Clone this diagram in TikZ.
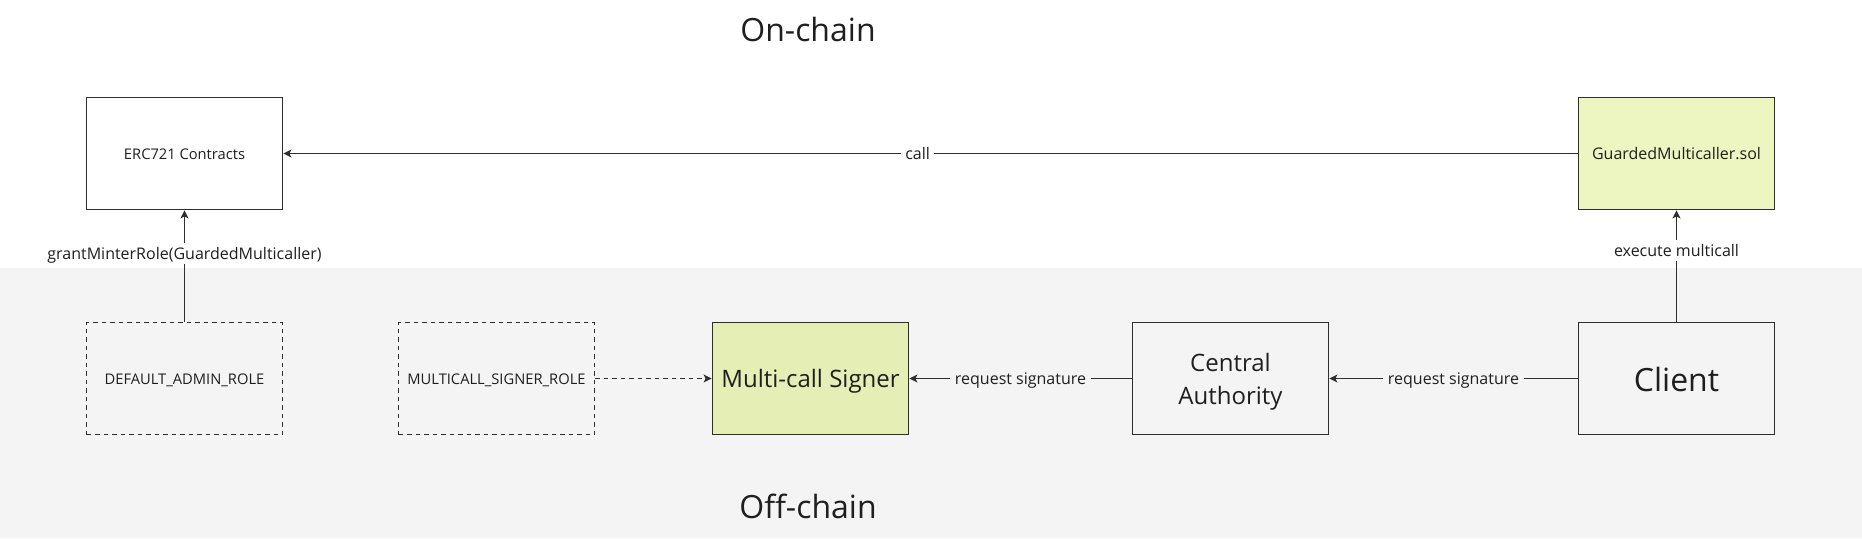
\documentclass[tikz,border=0pt]{standalone}
\usepackage{fontspec}
\setmainfont{Open Sans}
\usetikzlibrary{arrows.meta}
\definecolor{bggray}{HTML}{F4F4F4}
\definecolor{lineclr}{HTML}{2E2E2E}
\definecolor{textclr}{HTML}{1F1F1F}
\definecolor{gmfill}{HTML}{EDF5C0}
\definecolor{msfill}{HTML}{E4EEB5}
\begin{document}
\begin{tikzpicture}[x=1pt,y=-1pt,
  box/.style={draw=lineclr, line width=1.8pt, minimum width=196pt, minimum height=112pt, inner sep=0pt, align=center, text=textclr},
  dbox/.style={box, dash pattern=on 4.5pt off 4pt, line width=1.4pt},
  fsmall/.style={font=\fontsize{14.7}{18}\selectfont, text height=11.4pt, text depth=0pt},
  fmid/.style={font=\fontsize{16}{19}\selectfont, text height=12.4pt, text depth=0pt},
  fbig/.style={font=\fontsize{24}{29}\selectfont, text height=18.8pt, text depth=0pt},
  fhuge/.style={font=\fontsize{32}{38}\selectfont, text height=25pt, text depth=0pt},
  conn/.style={draw=lineclr, line width=1.4pt, -{Stealth[length=8pt,width=8pt,inset=2pt]}},
  lbl/.style={fill=white, inner xsep=4.5pt, inner ysep=4.7pt, font=\fontsize{16}{19}\selectfont, text height=11.6pt, text depth=0pt, text=textclr},
  title/.style={font=\fontsize{32}{38}\selectfont, text=textclr, anchor=base}
]
\useasboundingbox (0,0) rectangle (1862,538);
\fill[white] (0,0) rectangle (1862,268);
\fill[bggray] (0,268) rectangle (1862,538);

\node[title] (onchain) at (808,41) {On-chain};
\node[title] (offchain) at (808,518.5) {Off-chain};

\node[box, fsmall] (erc) at (184.5,153.5) {ERC721 Contracts};
\node[box, fill=gmfill, fmid] (gm) at (1676.5,153.5) {GuardedMulticaller.sol};

\node[dbox, fsmall] (admin) at (184.5,378.5) {DEFAULT\_ADMIN\_ROLE};
\node[dbox, fsmall] (signrole) at (496.5,378.5) {MULTICALL\_SIGNER\_ROLE};
\node[box, fill=msfill, fbig] (signer) at (810.5,378.5) {Multi-call Signer};
\node[box, font=\fontsize{24}{33}\selectfont, text height=51pt, text depth=0pt] (ca) at (1230.5,378.5) {Central\\Authority};
\node[box, fhuge] (client) at (1676.5,378.5) {Client};

\draw[conn] (gm) -- node[lbl, pos=0.51] {call} (erc);
\draw[conn] (admin) -- node[lbl, pos=0.61] {grantMinterRole(GuardedMulticaller)} (erc);
\draw[conn] (client) -- node[lbl, pos=0.64] {execute multicall} (gm);
\draw[conn] (client) -- node[lbl, fill=bggray] {request signature} (ca);
\draw[conn] (ca) -- node[lbl, fill=bggray] {request signature} (signer);
\draw[conn, dash pattern=on 4.5pt off 4pt] (signrole) -- (signer);
\end{tikzpicture}
\end{document}
